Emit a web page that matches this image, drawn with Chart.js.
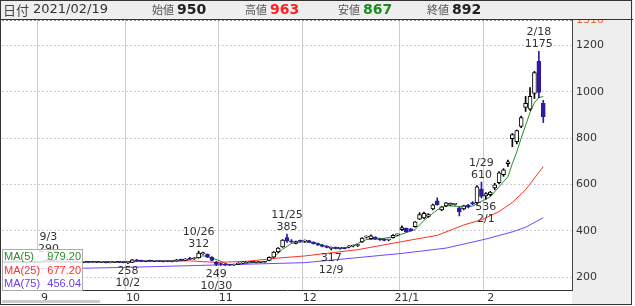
<!DOCTYPE html>
<html>
<head>
<meta charset="utf-8">
<script src="https://cdn.jsdelivr.net/npm/chart.js@4.4.1/dist/chart.umd.min.js"></script>
<style>
  html, body { margin: 0; padding: 0; background: #fff; }
</style>
</head>
<body>
<canvas id="myChart" width="635" height="306"></canvas>
<script>
// trading days shown on the chart (Aug 2020 - Feb 2021)
const dates = [
  "8/20","8/21","8/24","8/25","8/26","8/27","8/28","8/31",
  "9/1","9/2","9/3","9/4","9/7","9/8","9/9","9/10","9/11","9/14","9/15","9/16","9/17","9/18","9/23","9/24","9/25","9/28","9/29","9/30",
  "10/2","10/5","10/6","10/7","10/8","10/9","10/12","10/13","10/14","10/15","10/16","10/19","10/20","10/21","10/22","10/23","10/26","10/27","10/28","10/29","10/30",
  "11/2","11/4","11/5","11/6","11/9","11/10","11/11","11/12","11/13","11/16","11/17","11/18","11/19","11/20","11/24","11/25","11/26","11/27","11/30",
  "12/1","12/2","12/3","12/4","12/7","12/8","12/9","12/10","12/11","12/14","12/15","12/16","12/17","12/18","12/21","12/22","12/23","12/24","12/25","12/28","12/29","12/30",
  "1/4","1/5","1/6","1/7","1/8","1/12","1/13","1/14","1/15","1/18","1/19","1/20","1/21","1/22","1/25","1/26","1/27","1/28","1/29",
  "2/1","2/2","2/3","2/4","2/5","2/8","2/9","2/10","2/12","2/15","2/16","2/17","2/18","2/19"
];
const opens = [
  265,264,266,268,266,263,265,264,
  263,266,270,274,268,265,266,264,265,263,264,265,266,265,264,265,262,264,265,263,
  262,263,274,270,268,271,268,269,267,268,267,269,274,272,280,278,283,301,298,285,265,
  256,256,252,252,255,260,263,265,263,264,265,272,286,308,330,370,356,345,356,
  355,357,350,344,338,332,324,328,324,325,330,334,336,352,372,366,372,364,362,360,370,382,
  404,410,408,417,450,455,462,494,529,490,507,512,514,499,494,510,522,521,580,
  550,556,585,608,642,690,797,785,850,932,925,993,1131,950
];
const highs = [
  268,267,270,271,268,266,268,267,
  268,272,290,278,270,268,269,267,268,266,267,267,268,267,266,266,265,267,267,265,
  266,276,276,273,272,273,271,271,270,270,270,276,277,280,285,284,312,308,300,288,268,
  260,258,254,256,262,266,267,268,266,267,268,287,310,327,362,385,362,355,360,
  360,359,352,347,341,335,330,330,327,327,336,338,340,370,378,382,374,368,366,364,383,386,
  421,412,410,440,478,480,474,515,542,505,522,520,518,502,510,514,526,595,610,
  565,570,605,655,668,705,820,835,895,980,1018,1088,1175,963
];
const lows = [
  262,261,264,265,262,260,262,261,
  261,264,268,266,263,262,263,261,262,261,262,262,263,262,262,261,261,262,262,261,
  258,262,268,266,266,267,266,266,265,266,265,268,270,271,276,276,281,298,284,270,249,
  250,250,250,250,254,258,261,262,261,262,263,270,284,305,328,350,348,343,350,
  350,348,342,336,330,326,317,322,320,321,326,330,332,350,368,364,362,358,356,356,368,378,
  400,393,398,415,448,452,458,490,510,486,504,508,510,464,490,498,512,515,541,
  536,550,577,603,635,678,763,775,845,915,920,971,975,867
];
const closes = [
  264,266,268,266,263,265,264,263,
  266,270,276,268,265,266,264,265,263,264,265,263,264,263,265,262,264,265,263,262,
  263,274,270,268,271,268,269,267,268,267,269,274,272,278,278,282,303,305,286,272,254,
  254,251,251,255,260,263,265,263,264,265,264,285,308,325,360,355,352,353,354,
  357,350,344,338,332,328,328,324,325,323,334,336,338,368,372,378,364,360,358,362,380,382,
  414,396,400,438,470,475,470,512,512,503,520,518,514,481,507,502,515,590,548,
  560,567,598,650,663,698,815,832,889,950,980,1083,997,892
];
const emptySlots = 6;

// moving averages: [day index, value]
const ma5Pts = [[0,264],[8,265],[12,268],[18,265],[27,264],[30,268],[38,269],[42,276],[45,292],[47,283],[49,268],[51,252],[53,254],[56,262],[59,265],[61,285],[63,320],[65,345],[67,352],[70,350],[72,338],[75,322],[78,328],[80,345],[82,362],[86,367],[89,378],[91,392],[93,405],[95,445],[98,490],[100,508],[103,505],[106,506],[108,527],[110,546],[112,590],[114,633],[115,690],[116,740],[117,800],[118,855],[119,910],[120,953],[121,975],[122,979.20]];
const ma25Pts = [[0,266],[18,266],[28,266],[42,270],[48,263],[55,268],[62,282],[68,291],[80,318],[90,353],[98,380],[104,425],[108,447],[112,483],[115,522],[118,577],[122,677.20]];
const ma75Pts = [[0,236],[18,238],[28,242],[48,252],[68,262],[90,302],[100,325],[109,364],[115,395],[118,415],[122,456.04]];

// high / low markers
const markDates = ["9/3","10/2","10/26","10/30","11/25","12/9","1/29","2/1","2/18"];
const markValues = [290,258,312,249,385,317,610,536,1175];
const markSides = ["high","low","high","low","high","low","high","low","high"];

const yTicks = [200,400,600,800,1000,1200,1310];
const headerDate = "2021/02/19";

const upFill = "#ffffff", upLine = "#000000", downColor = "#2d1ca0";
const ma5Color = "#2a8a2a", ma25Color = "#ff3322", ma75Color = "#7744ff";

// build labels / series
const labels = dates.concat(new Array(emptySlots).fill(""));
const monthLbl = {};
for (let i = 1; i < dates.length; i++) {
  const m = dates[i].split("/")[0], pm = dates[i-1].split("/")[0];
  if (m !== pm) monthLbl[i] = (m === "1") ? "21/1" : m;
}
function sparse(pts) {
  const arr = new Array(labels.length).fill(null);
  pts.forEach(p => { arr[p[0]] = p[1]; });
  return arr;
}
const wickData = lows.map((l, i) => [l, highs[i]]);
const bodyData = opens.map((o, i) => [o, closes[i]]);
const isUp = opens.map((o, i) => closes[i] >= o);

const chrome = {
  id: "chrome",
  beforeDraw(chart) {
    const c = chart.ctx, a = chart.chartArea;
    c.save();
    c.fillStyle = "#fff";
    c.fillRect(0, 0, chart.width, chart.height);
    c.fillStyle = "#eeeeee";
    c.fillRect(a.right, 20, 632 - a.right, 285);
    c.restore();
  },
  afterDatasetsDraw(chart) {
    const c = chart.ctx, a = chart.chartArea;
    const xs = chart.scales.x, ys = chart.scales.y;
    c.save();
    // dotted top line
    c.strokeStyle = "#888";
    c.setLineDash([2, 2]);
    c.beginPath();
    c.moveTo(a.left, a.top + 0.5);
    c.lineTo(a.right, a.top + 0.5);
    c.stroke();
    c.setLineDash([]);
    // high / low labels
    c.font = "11px 'DejaVu Sans'";
    c.fillStyle = "#333";
    c.textAlign = "center";
    c.textBaseline = "middle";
    markDates.forEach((d, k) => {
      const i = dates.indexOf(d);
      const x = xs.getPixelForValue(i);
      const y = ys.getPixelForValue(markValues[k]);
      if (markSides[k] === "high") {
        c.fillText(String(markValues[k]), x, y - 7);
        c.fillText(d, x, y - 19);
      } else {
        c.fillText(String(markValues[k]), x, y + 8);
        c.fillText(d, x, y + 20);
      }
    });
    // MA value box
    c.fillStyle = "rgba(255,255,255,0.82)";
    c.fillRect(2, 249, 81, 42);
    c.strokeStyle = "#aaa";
    c.strokeRect(2.5, 249.5, 80, 41);
    c.font = "11px 'Liberation Sans'";
    const last = labels.length - emptySlots - 1;
    const rows = [["MA(5)", ma5Pts, ma5Color], ["MA(25)", ma25Pts, ma25Color], ["MA(75)", ma75Pts, "#6a3cf0"]];
    rows.forEach((r, k) => {
      const y = 257 + k * 13.5;
      c.fillStyle = r[2];
      c.textAlign = "left";
      c.fillText(r[0], 4, y);
      c.textAlign = "right";
      const v = r[1].find(p => p[0] === last)[1];
      c.fillText(v.toFixed(2), 81, y);
    });
    c.restore();
  },
  afterDraw(chart) {
    const c = chart.ctx;
    c.save();
    // header bar
    c.fillStyle = "#eeeeee";
    c.fillRect(0, 0, 633, 19);
    c.strokeStyle = "#333";
    c.beginPath();
    c.moveTo(0, 19.5);
    c.lineTo(633, 19.5);
    c.stroke();
    const n = opens.length - 1;
    c.textBaseline = "middle";
    c.textAlign = "left";
    const cjk = "'Noto Sans CJK JP'";
    c.font = "13px " + cjk; c.fillStyle = "#444"; c.fillText("日付", 3, 10);
    c.font = "13px 'DejaVu Sans'"; c.fillStyle = "#333"; c.fillText(headerDate, 33, 10);
    const items = [["始値", opens[n], "#222", 152], ["高値", highs[n], "#ff2020", 245], ["安値", lows[n], "#1e8c1e", 338], ["終値", closes[n], "#222", 427]];
    items.forEach(it => {
      c.font = "11px " + cjk; c.fillStyle = "#555"; c.fillText(it[0], it[3], 10);
      c.font = "bold 14px 'DejaVu Sans'"; c.fillStyle = it[2]; c.fillText(String(it[1]), it[3] + 25, 10);
    });
    // scrollbar
    c.fillStyle = "#cccccc";
    c.fillRect(2, 300, 98, 3);
    // frame
    c.strokeStyle = "#333";
    c.strokeRect(0.5, 0.5, 631, 304);
    c.restore();
  }
};

new Chart("myChart", {
  type: "bar",
  data: {
    labels: labels,
    datasets: [
      { type: "line", label: "MA5", data: sparse(ma5Pts), borderColor: ma5Color, borderWidth: 1, pointRadius: 0, spanGaps: true, order: 5 },
      { type: "line", label: "MA25", data: sparse(ma25Pts), borderColor: ma25Color, borderWidth: 1, pointRadius: 0, spanGaps: true, order: 4 },
      { type: "line", label: "MA75", data: sparse(ma75Pts), borderColor: ma75Color, borderWidth: 1, pointRadius: 0, spanGaps: true, order: 3 },
      { label: "wick", data: wickData, backgroundColor: isUp.map(u => u ? upLine : downColor), barThickness: 1, grouped: false, order: 2 },
      { label: "body", data: bodyData, backgroundColor: isUp.map(u => u ? upFill : downColor),
        borderColor: isUp.map(u => u ? upLine : downColor), borderWidth: 1, borderSkipped: false,
        barThickness: 4, minBarLength: 1, grouped: false, order: 1 }
    ]
  },
  options: {
    responsive: false,
    animation: false,
    devicePixelRatio: 1,
    layout: { padding: { top: 20, right: 3, left: 2, bottom: 2 } },
    plugins: { legend: { display: false }, tooltip: { enabled: false } },
    scales: {
      x: {
        offset: true,
        grid: { offset: true, drawTicks: false, color: c => (c.index in monthLbl) ? "#cccccc" : "rgba(0,0,0,0)" },
        border: { color: "#333" },
        ticks: { autoSkip: false, maxRotation: 0, minRotation: 0, padding: 2, labelOffset: 5,
          font: { family: "DejaVu Sans", size: 11 }, color: "#333",
          callback: (v, i) => monthLbl[i] || "" },
        afterFit: s => { s.height = 14; }
      },
      y: {
        position: "right",
        min: 144,
        max: 1310,
        afterBuildTicks: s => { s.ticks = yTicks.map(v => ({ value: v })); },
        grid: { drawTicks: false, color: c => (c.tick && c.tick.value === 1310) ? "rgba(0,0,0,0)" : "#cccccc" },
        border: { color: "#444", dash: [2, 2] },
        ticks: { padding: 4, font: { family: "DejaVu Sans", size: 11 },
          color: c => (c.tick && c.tick.value === 1310) ? "#f2662e" : "#333",
          callback: v => String(v) },
        afterFit: s => { s.width = 60; }
      }
    }
  },
  plugins: [chrome]
});
</script>
</body>
</html>
